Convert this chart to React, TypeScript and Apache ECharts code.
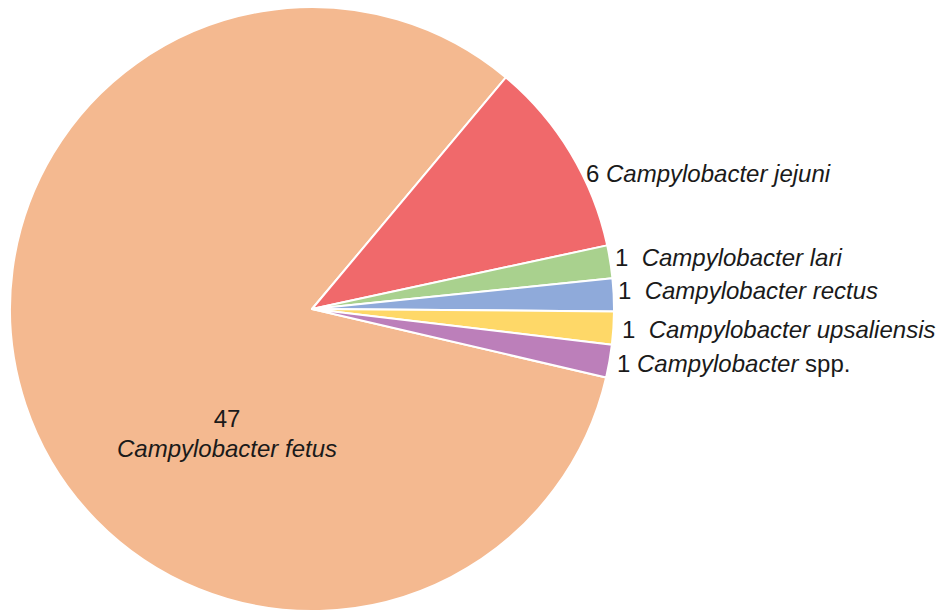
import React, { useEffect, useRef } from "react";
import * as echarts from "echarts";

const species = [
  "Campylobacter fetus",
  "Campylobacter jejuni",
  "Campylobacter lari",
  "Campylobacter rectus",
  "Campylobacter upsaliensis",
  "Campylobacter spp.",
];
const counts = [47, 6, 1, 1, 1, 1];
const colors = ["#F4B990", "#F0696B", "#A9D18E", "#8FAADA", "#FED868", "#BC7FBA"];
const labelTexts = [
  "{n|47}\n{i|Campylobacter fetus}",
  "{n|6} {i|Campylobacter jejuni}",
  "{n|1}  {i|Campylobacter lari}",
  "{n|1}  {i|Campylobacter rectus}",
  "{n|1}  {i|Campylobacter upsaliensis}",
  "{n|1} {i|Campylobacter} {n|spp.}",
];
// label anchor positions (left x / center y; first is centered)
const labelAnchors: [number, number][] = [
  [227, 433],
  [586, 173],
  [615, 257],
  [618, 290],
  [622, 329],
  [617, 363],
];

export default function App() {
  const ref = useRef<HTMLDivElement>(null);
  useEffect(() => {
    if (!ref.current) return;
    const chart = echarts.init(ref.current, null, { renderer: "svg" });
    const font = "'Liberation Sans', Arial, sans-serif";
    chart.setOption({
      animation: false,
      backgroundColor: "#ffffff",
      series: [
        {
          type: "pie",
          center: [312, 309],
          radius: 302,
          startAngle: -13.1,
          clockwise: true,
          avoidLabelOverlap: false,
          itemStyle: { borderColor: "#ffffff", borderWidth: 2 },
          labelLine: { show: false },
          label: {
            show: true,
            position: "outside",
            fontFamily: font,
            fontSize: 24,
            color: "#1a1a1a",
            rich: {
              n: { fontFamily: font, fontSize: 24, color: "#1a1a1a", lineHeight: 30 },
              i: { fontFamily: font, fontSize: 24, fontStyle: "italic", color: "#1a1a1a", lineHeight: 30 },
            },
          },
          labelLayout: (p: any) => {
            const a = labelAnchors[p.dataIndex];
            return {
              x: a[0],
              y: a[1],
              align: p.dataIndex === 0 ? "center" : "left",
              verticalAlign: "middle",
            };
          },
          data: species.map((name, i) => ({
            name,
            value: counts[i],
            itemStyle: { color: colors[i] },
            label: { formatter: labelTexts[i], align: i === 0 ? "center" : "left" },
          })),
        },
      ],
    });
    return () => chart.dispose();
  }, []);
  return (
    <div
      ref={ref}
      style={{ position: "fixed", left: 0, top: 0, width: 936, height: 611 }}
    />
  );
}
